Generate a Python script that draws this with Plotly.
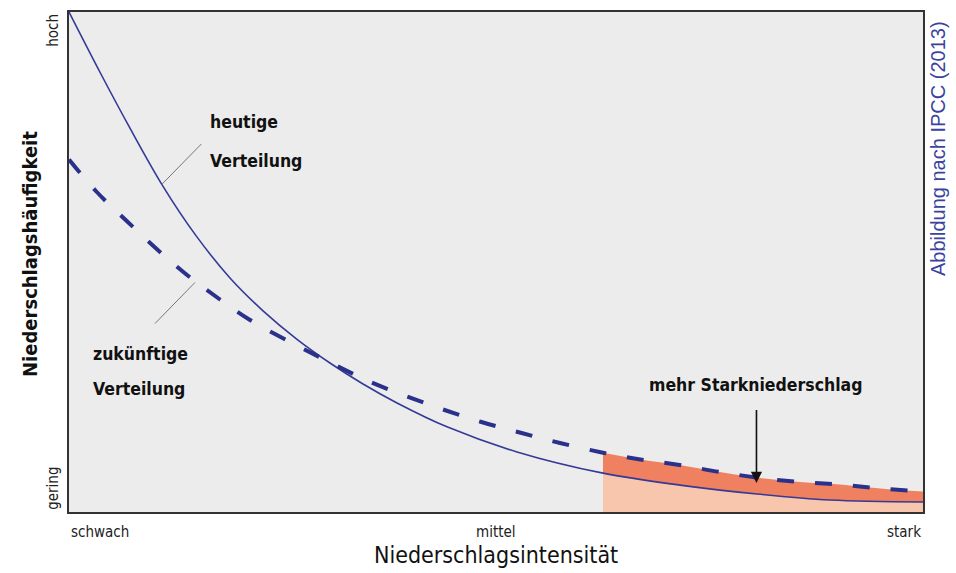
import plotly.graph_objects as go

# --- data (normalised 0..1 scales) ---
solid_x = [0.0, 0.0363, 0.0714, 0.1101, 0.1487, 0.1885, 0.2272, 0.2670, 0.3056, 0.3443, 0.3841, 0.4426,
           0.5246, 0.6253, 0.7155, 0.8056, 0.8911, 1.0]
solid_y = [1.0, 0.8795, 0.7677, 0.6514, 0.5528, 0.4681, 0.4024, 0.3454, 0.2980, 0.2560, 0.2181, 0.1703,
           0.1201, 0.0777, 0.0538, 0.0359, 0.0239, 0.0199]

dashed_x = [0.0, 0.032, 0.0676, 0.1027, 0.1397, 0.1768, 0.212, 0.262, 0.306, 0.349, 0.393, 0.438, 0.483, 0.530, 0.575,
            0.6253, 0.669, 0.715, 0.762, 0.809, 0.856, 0.903, 0.950, 1.0]
dashed_y = [0.705, 0.641, 0.582, 0.526, 0.472, 0.425, 0.384, 0.337, 0.299, 0.263, 0.233, 0.205, 0.180, 0.158, 0.138,
            0.1185, 0.105, 0.094, 0.080, 0.068, 0.060, 0.055, 0.047, 0.041]

fill_start = 0.6253  # start of "mehr Starkniederschlag" region

x_tick_vals = [0.0, 0.5, 1.0]
x_tick_text = ["schwach", "mittel", "stark"]
y_tick_text = ["gering", "hoch"]

NARROW = "Liberation Sans Narrow, DejaVu Sans Condensed, Arial Narrow, sans-serif"
LINE_COL = "#343a96"

sx = [x for x in solid_x if x >= fill_start]
sy = [y for x, y in zip(solid_x, solid_y) if x >= fill_start]
dx = [x for x in dashed_x if x >= fill_start]
dy = [y for x, y in zip(dashed_x, dashed_y) if x >= fill_start]

fig = go.Figure()
fig.add_trace(go.Scatter(x=sx, y=sy, mode="lines", line=dict(width=0, shape="spline"),
                         fill="tozeroy", fillcolor="#f8c6ad", hoverinfo="skip", showlegend=False))
fig.add_trace(go.Scatter(x=dx, y=dy, mode="lines", line=dict(width=0, shape="spline"),
                         fill="tonexty", fillcolor="#ef8060", hoverinfo="skip", showlegend=False))
fig.add_trace(go.Scatter(x=solid_x, y=solid_y, mode="lines", name="heutige Verteilung",
                         line=dict(color=LINE_COL, width=1.6, shape="spline"), showlegend=False))
fig.add_trace(go.Scatter(x=dashed_x, y=dashed_y, mode="lines", name="zukünftige Verteilung",
                         line=dict(color="#2a318a", width=4, shape="spline", dash="17px,21px"), showlegend=False))

annotations = []
def txt(x, y, text, size, bold=False, xanchor="left", color="#111111"):
    annotations.append(dict(x=x, y=y, xref="x", yref="y", text=f"<b>{text}</b>" if bold else text,
                            showarrow=False, xanchor=xanchor, yanchor="middle",
                            font=dict(family=NARROW, size=size, color=color)))

LBL = 17.5
txt(0.163, 0.780, "heutige", LBL, bold=True)
txt(0.163, 0.702, "Verteilung", LBL, bold=True)
txt(0.026, 0.317, "zukünftige", LBL, bold=True)
txt(0.026, 0.247, "Verteilung", LBL, bold=True)
txt(0.804, 0.255, "mehr Starkniederschlag", LBL, bold=True, xanchor="center")

# arrow to the highlighted region
annotations.append(dict(x=0.805, y=0.058, ax=0.805, ay=0.207, xref="x", yref="y", axref="x", ayref="y",
                        showarrow=True, arrowhead=2, arrowsize=1.4, arrowwidth=1.6, arrowcolor="#111111", text=""))

# x tick labels
for v, t in zip(x_tick_vals, x_tick_text):
    anchor = "left" if v == 0 else ("right" if v == 1 else "center")
    annotations.append(dict(x=v, y=-0.04, xref="paper", yref="paper", text=t, showarrow=False,
                            xanchor=anchor, yanchor="middle", font=dict(family=NARROW, size=15, color="#222222")))
# y tick labels (rotated)
annotations.append(dict(x=-0.0195, y=0.0, xref="paper", yref="paper", text=y_tick_text[0], showarrow=False, textangle=-90,
                        xanchor="center", yanchor="bottom", font=dict(family=NARROW, size=15, color="#222222")))
annotations.append(dict(x=-0.0195, y=1.0, xref="paper", yref="paper", text=y_tick_text[1], showarrow=False, textangle=-90,
                        xanchor="center", yanchor="top", font=dict(family=NARROW, size=15, color="#222222")))
# axis titles
annotations.append(dict(x=0.5, y=-0.085, xref="paper", yref="paper", text="Niederschlagsintensität", showarrow=False,
                        xanchor="center", yanchor="middle", font=dict(family=NARROW, size=23, color="#111111")))
annotations.append(dict(x=-0.0457, y=0.516, xref="paper", yref="paper", text="<b>Niederschlagshäufigkeit</b>", showarrow=False,
                        textangle=-90, xanchor="center", yanchor="middle", font=dict(family=NARROW, size=20, color="#111111")))
# source note
annotations.append(dict(x=1.0176, y=0.726, xref="paper", yref="paper", text="Abbildung nach IPCC (2013)", showarrow=False,
                        textangle=-90, xanchor="center", yanchor="middle",
                        font=dict(family="Liberation Sans, Arial, sans-serif", size=20, color="#3a43a0")))

shapes = [
    dict(type="line", xref="x", yref="y", x0=0.1085, y0=0.655, x1=0.155, y1=0.736,
         line=dict(color="#777777", width=1)),
    dict(type="line", xref="x", yref="y", x0=0.1007, y0=0.377, x1=0.1475, y1=0.459,
         line=dict(color="#777777", width=1)),
]

fig.update_layout(
    width=956, height=573,
    margin=dict(l=69, r=33, t=10, b=61),
    paper_bgcolor="white", plot_bgcolor="#ececec",
    annotations=annotations, shapes=shapes,
    xaxis=dict(range=[0, 1], showgrid=False, zeroline=False, showticklabels=False, ticks="",
               showline=True, mirror=True, linecolor="#333333", linewidth=1.5),
    yaxis=dict(range=[0, 1], showgrid=False, zeroline=False, showticklabels=False, ticks="",
               showline=True, mirror=True, linecolor="#333333", linewidth=1.5),
)

fig.write_html("out.html", config={"displayModeBar": False},
               post_script="document.body.style.margin='0';document.body.style.overflow='hidden';")
